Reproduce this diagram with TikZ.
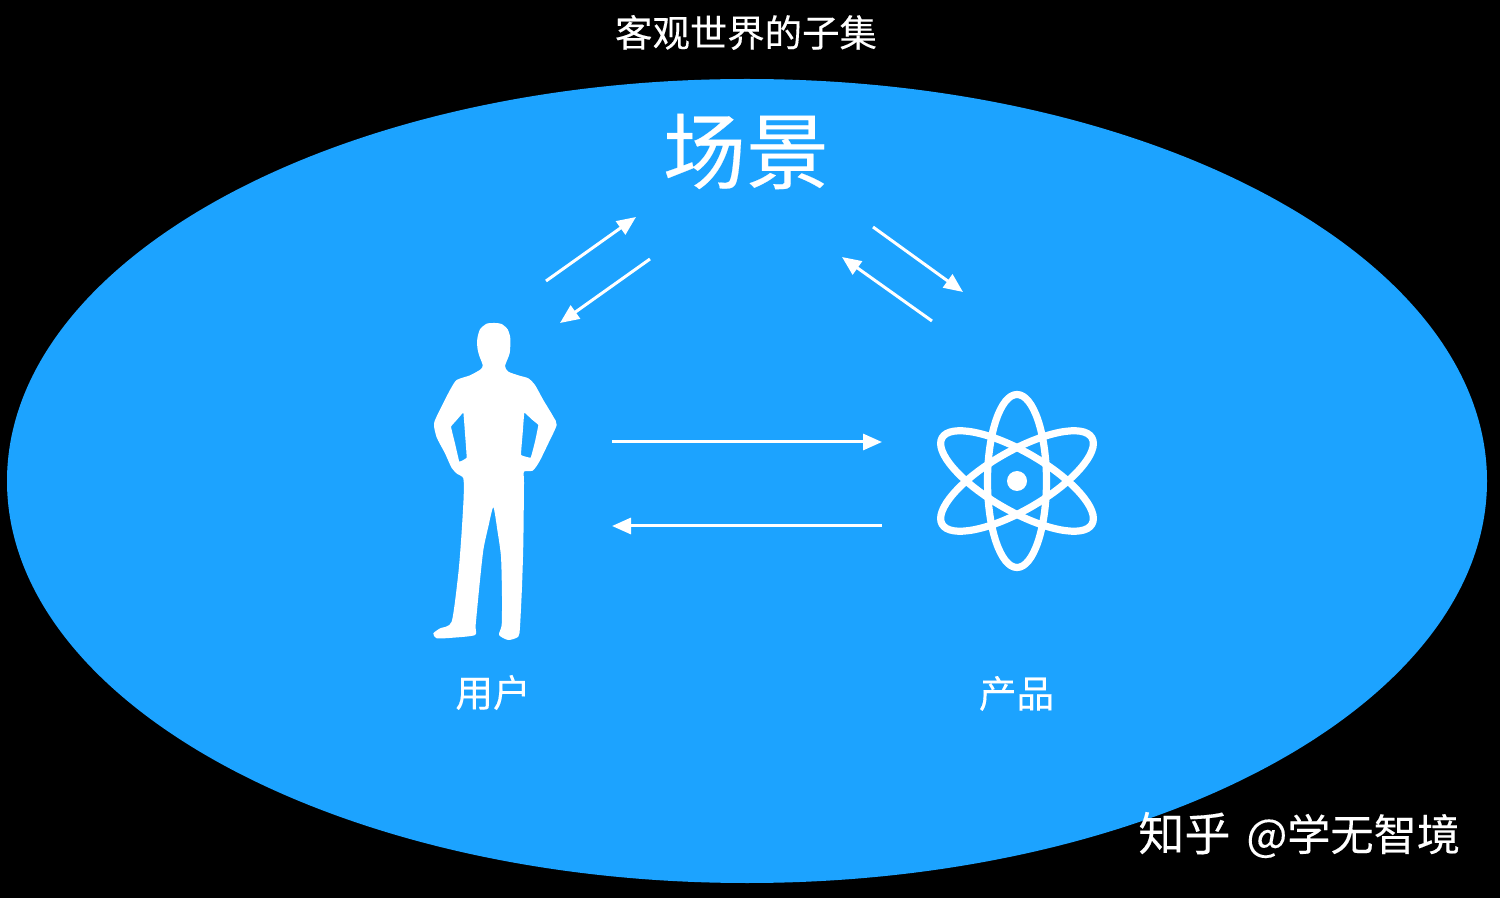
\documentclass[tikz,border=0pt]{standalone}
\usepackage{fontspec}
\usetikzlibrary{arrows.meta}
\newfontfamily\cjkfont[FakeBold=0.2]{Noto Sans CJK SC}
\definecolor{skyblue}{HTML}{1CA3FF}
\tikzset{
  flow/.style={draw=white,line width=1.5pt,-{Triangle[length=9.5pt,width=8pt]}},
  label/.style={text=white,inner sep=0pt,font=\cjkfont\fontsize{#1}{#1}\selectfont},
  orbit/.style={draw=white,line width=3.6pt}
}
\begin{document}
\begin{tikzpicture}[x=0.5pt,y=-0.5pt]
\useasboundingbox (0,0) rectangle (1500,898);
\fill[black] (0,0) rectangle (1500,898);
\fill[skyblue] (747,481) ellipse [x radius=740,y radius=402];

\node[label=18.7pt] (title) at (746,32.5) {客观世界的子集};
\node[label=41.5pt] (scene) at (746,151.5) {场景};
\node[label=18.8pt] (user) at (493,692.5) {用户};
\node[label=18.8pt] (product) at (1016.5,693.5) {产品};
\node[label=21.6pt,anchor=west] (mark) at (1138,835) {{\fontsize{23pt}{23pt}\selectfont 知乎}\hspace{8pt}@学无智境};

% person silhouette
\begin{scope}[shift={(420,310)},x=0.16667pt,y=-0.16667pt]
\fill[white,even odd rule]
 plot[smooth cycle,tension=0.4] coordinates {
 (225,39) (200,41) (180,58) (172,85) (172,112) (177,135) (188,165) (182,178) (150,196) (110,210) (90,240) (62,295) (42,340) (50,382) (75,430) (95,474) (112,492) (130,505)
 (131,560) (124,680) (115,790) (95,935) (60,955) (40,970) (50,985) (100,983) (165,975) (167,945) (178,830) (190,720) (205,650) (220,592)
 (232,660) (243,740) (246,860) (245,945) (237,975) (265,990) (295,980) (300,950) (306,830) (310,700) (312,520) (312,485) (338,482) (358,455) (385,400) (410,345) (400,320) (370,270) (345,225) (325,205) (295,196) (265,185) (255,168) (269,130) (271,85) (263,58) (245,42)}
 plot[smooth cycle,tension=0.1] coordinates {(130,308) (112,328) (93,350) (105,400) (118,455) (140,443) (135,370)}
 plot[smooth cycle,tension=0.1] coordinates {(313,308) (335,328) (355,345) (345,395) (332,443) (303,435) (308,370)};
\end{scope}

% atom
\draw[orbit] (1017,481) ellipse [x radius=29.5,y radius=86.5];
\draw[orbit,rotate around={60:(1017,481)}] (1017,481) ellipse [x radius=29.5,y radius=86.5];
\draw[orbit,rotate around={-60:(1017,481)}] (1017,481) ellipse [x radius=29.5,y radius=86.5];
\fill[white] (1017,481) circle [radius=10];

% connectors
\coordinate (a1) at (546,281); \coordinate (a2) at (636,217);
\coordinate (b1) at (650,259); \coordinate (b2) at (560,323);
\coordinate (c1) at (873,227); \coordinate (c2) at (963,292);
\coordinate (d1) at (932,321); \coordinate (d2) at (842,257);
\coordinate (e1) at (612,442); \coordinate (e2) at (882,442);
\coordinate (f1) at (882,526); \coordinate (f2) at (612,526);
\draw[flow] (a1) -- (a2);
\draw[flow] (b1) -- (b2);
\draw[flow] (c1) -- (c2);
\draw[flow] (d1) -- (d2);
\draw[flow] (e1) -- (e2);
\draw[flow] (f1) -- (f2);
\end{tikzpicture}
\end{document}
